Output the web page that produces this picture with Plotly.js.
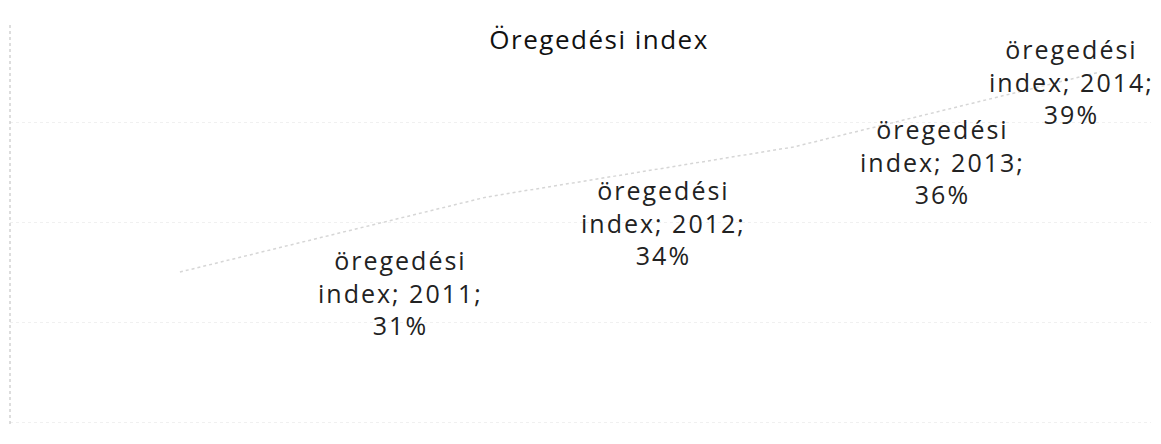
<!DOCTYPE html>
<html>
<head>
<meta charset="utf-8">
<script src="https://cdn.plot.ly/plotly-3.0.1.min.js"></script>
<style>
html,body{margin:0;padding:0;background:#fff;}
#chart{width:1161px;height:444px;}
#chart .annotation-text{letter-spacing:2px;}
#chart .gtitle{letter-spacing:1.5px;}
</style>
</head>
<body>
<div id="chart"></div>
<script>
var chartTitle = 'Öregedési index';
var seriesName = 'öregedési index';
var years = [2011, 2012, 2013, 2014];
var values = [0.31, 0.34, 0.36, 0.39];
var valueLabels = ['31%', '34%', '36%', '39%'];

// label offsets (px) relative to each point
var labelShiftX = [221, 177, 149, -29];
var labelShiftY = [-20, -25, -14, -9];

var nameParts = seriesName.split(' ');
var annotations = years.map(function (yr, i) {
  return {
    x: yr, y: values[i], xref: 'x', yref: 'y',
    text: nameParts[0] + '<br>' + nameParts[1] + '; ' + yr + ';<br>' + valueLabels[i],
    showarrow: false, xanchor: 'center', yanchor: 'middle',
    xshift: labelShiftX[i], yshift: labelShiftY[i],
    font: {family: 'Open Sans, sans-serif', size: 25, color: '#222'}
  };
});

var trace = {
  x: years, y: values, type: 'scatter', mode: 'lines', name: seriesName,
  line: {color: '#d6d6d6', width: 1.5, dash: 'dot'},
  hoverinfo: 'skip'
};

var layout = {
  width: 1161, height: 444,
  margin: {l: 10, r: 10, t: 25, b: 20},
  paper_bgcolor: '#ffffff', plot_bgcolor: '#ffffff',
  showlegend: false,
  title: {
    text: chartTitle, x: 0.516, xanchor: 'center', y: 0.91, yanchor: 'middle',
    font: {family: 'Open Sans, sans-serif', size: 26, color: '#111'}
  },
  xaxis: {range: [2010.446, 2014.166], showgrid: false, zeroline: false, showticklabels: false, ticks: '', showline: false},
  yaxis: {range: [0.2492, 0.4088], showgrid: true, gridcolor: '#f0f0f0', griddash: 'dot', tick0: 0.25, dtick: 0.04,
          zeroline: false, showticklabels: false, ticks: '', showline: false},
  annotations: annotations,
  shapes: [{type: 'line', xref: 'paper', yref: 'paper', x0: 0, x1: 0, y0: 0, y1: 1,
            line: {color: '#bbbbbb', width: 1, dash: 'dot'}}]
};

Plotly.newPlot('chart', [trace], layout, {displayModeBar: false, staticPlot: true});
</script>
</body>
</html>
